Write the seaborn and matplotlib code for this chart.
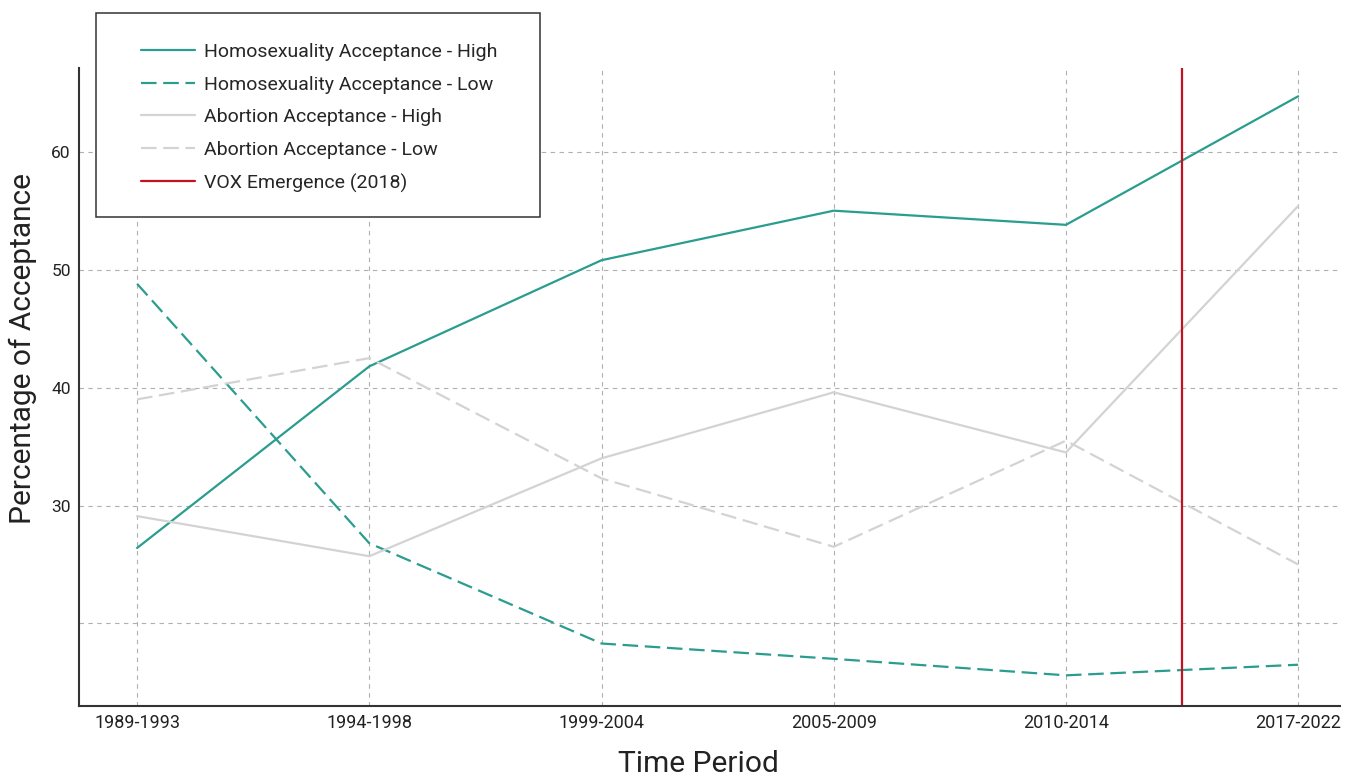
import matplotlib
matplotlib.use("Agg")
import matplotlib.pyplot as plt
import seaborn as sns
import pandas as pd
from matplotlib.patches import Rectangle

periods = ["1989-1993", "1994-1998", "1999-2004", "2005-2009", "2010-2014", "2017-2022"]
homo_high = [26.4, 41.8, 50.8, 55.0, 53.8, 64.7]
homo_low = [48.8, 26.8, 18.3, 17.0, 15.6, 16.5]
abort_high = [29.1, 25.7, 34.0, 39.6, 34.5, 55.4]
abort_low = [39.0, 42.5, 32.3, 26.5, 35.5, 25.0]
vox_pos = 4.5

TEAL = "#2a9d8f"
GREY = "#d3d3d3"
RED = "#c1121f"

sns.set_style("white")
plt.rcParams["font.family"] = ["Roboto", "DejaVu Sans"]

df = pd.DataFrame({"Period": periods, "HH": homo_high, "HL": homo_low,
                   "AH": abort_high, "AL": abort_low})

W, H = 1349, 776
fig = plt.figure(figsize=(W / 100, H / 100), dpi=100)
ax = fig.add_axes([0.0586, 0.0902, 0.9347, 0.8222])

sns.lineplot(data=df, x="Period", y="HH", color=TEAL, lw=1.6, ax=ax,
             label="Homosexuality Acceptance - High", sort=False)
sns.lineplot(data=df, x="Period", y="HL", color=TEAL, lw=1.6, ax=ax,
             label="Homosexuality Acceptance - Low", sort=False)
ax.lines[-1].set_dashes((7, 3))
sns.lineplot(data=df, x="Period", y="AH", color=GREY, lw=1.6, ax=ax,
             label="Abortion Acceptance - High", sort=False)
sns.lineplot(data=df, x="Period", y="AL", color=GREY, lw=1.6, ax=ax,
             label="Abortion Acceptance - Low", sort=False)
ax.lines[-1].set_dashes((7, 3))
ax.axvline(vox_pos, color=RED, lw=1.6, label="VOX Emergence (2018)")

ax.set_xlim(-0.25, 5.18)
ax.set_ylim(13, 67.1)
ax.set_yticks([20, 30, 40, 50, 60])
ax.set_yticklabels(["", "30", "40", "50", "60"])
ax.grid(True, color="#b0b0b0", ls=(0, (4, 4)), lw=0.8)
ax.set_axisbelow(True)
sns.despine(ax=ax)
for s in ["left", "bottom"]:
    ax.spines[s].set_color("#333333")
    ax.spines[s].set_linewidth(1.5)
ax.tick_params(direction="in", length=7, width=1.5, color="#333333",
               labelcolor="#222222", pad=6)
ax.tick_params(axis="x", labelsize=13)
ax.tick_params(axis="y", labelsize=12.5)

ax.set_xlabel("Time Period", fontsize=21.5, color="#222222")
ax.xaxis.set_label_coords(0.491, -0.069)
ax.set_ylabel("Percentage of Acceptance", fontsize=21.5, color="#222222")
ax.yaxis.set_label_coords(-0.033, 0.56)

# legend as figure legend; its box is drawn separately to get the wide padding
handles, labels = ax.get_legend_handles_labels()
ax.get_legend().remove()
fig.patches.append(Rectangle((96 / W, 1 - 217 / H), 444 / W, 204 / H, transform=fig.transFigure,
                             fill=True, facecolor="white", edgecolor="#333333", lw=1.1, zorder=2))
leg = fig.legend(handles, labels, loc="upper left", bbox_to_anchor=(141 / W, 1 - 43 / H),
                 bbox_transform=fig.transFigure, borderaxespad=0, borderpad=0, frameon=False,
                 fontsize=14, handlelength=2.8, labelspacing=0.75, handletextpad=0.42)
leg.set_zorder(5)

fig.savefig("out.png", dpi=100)
